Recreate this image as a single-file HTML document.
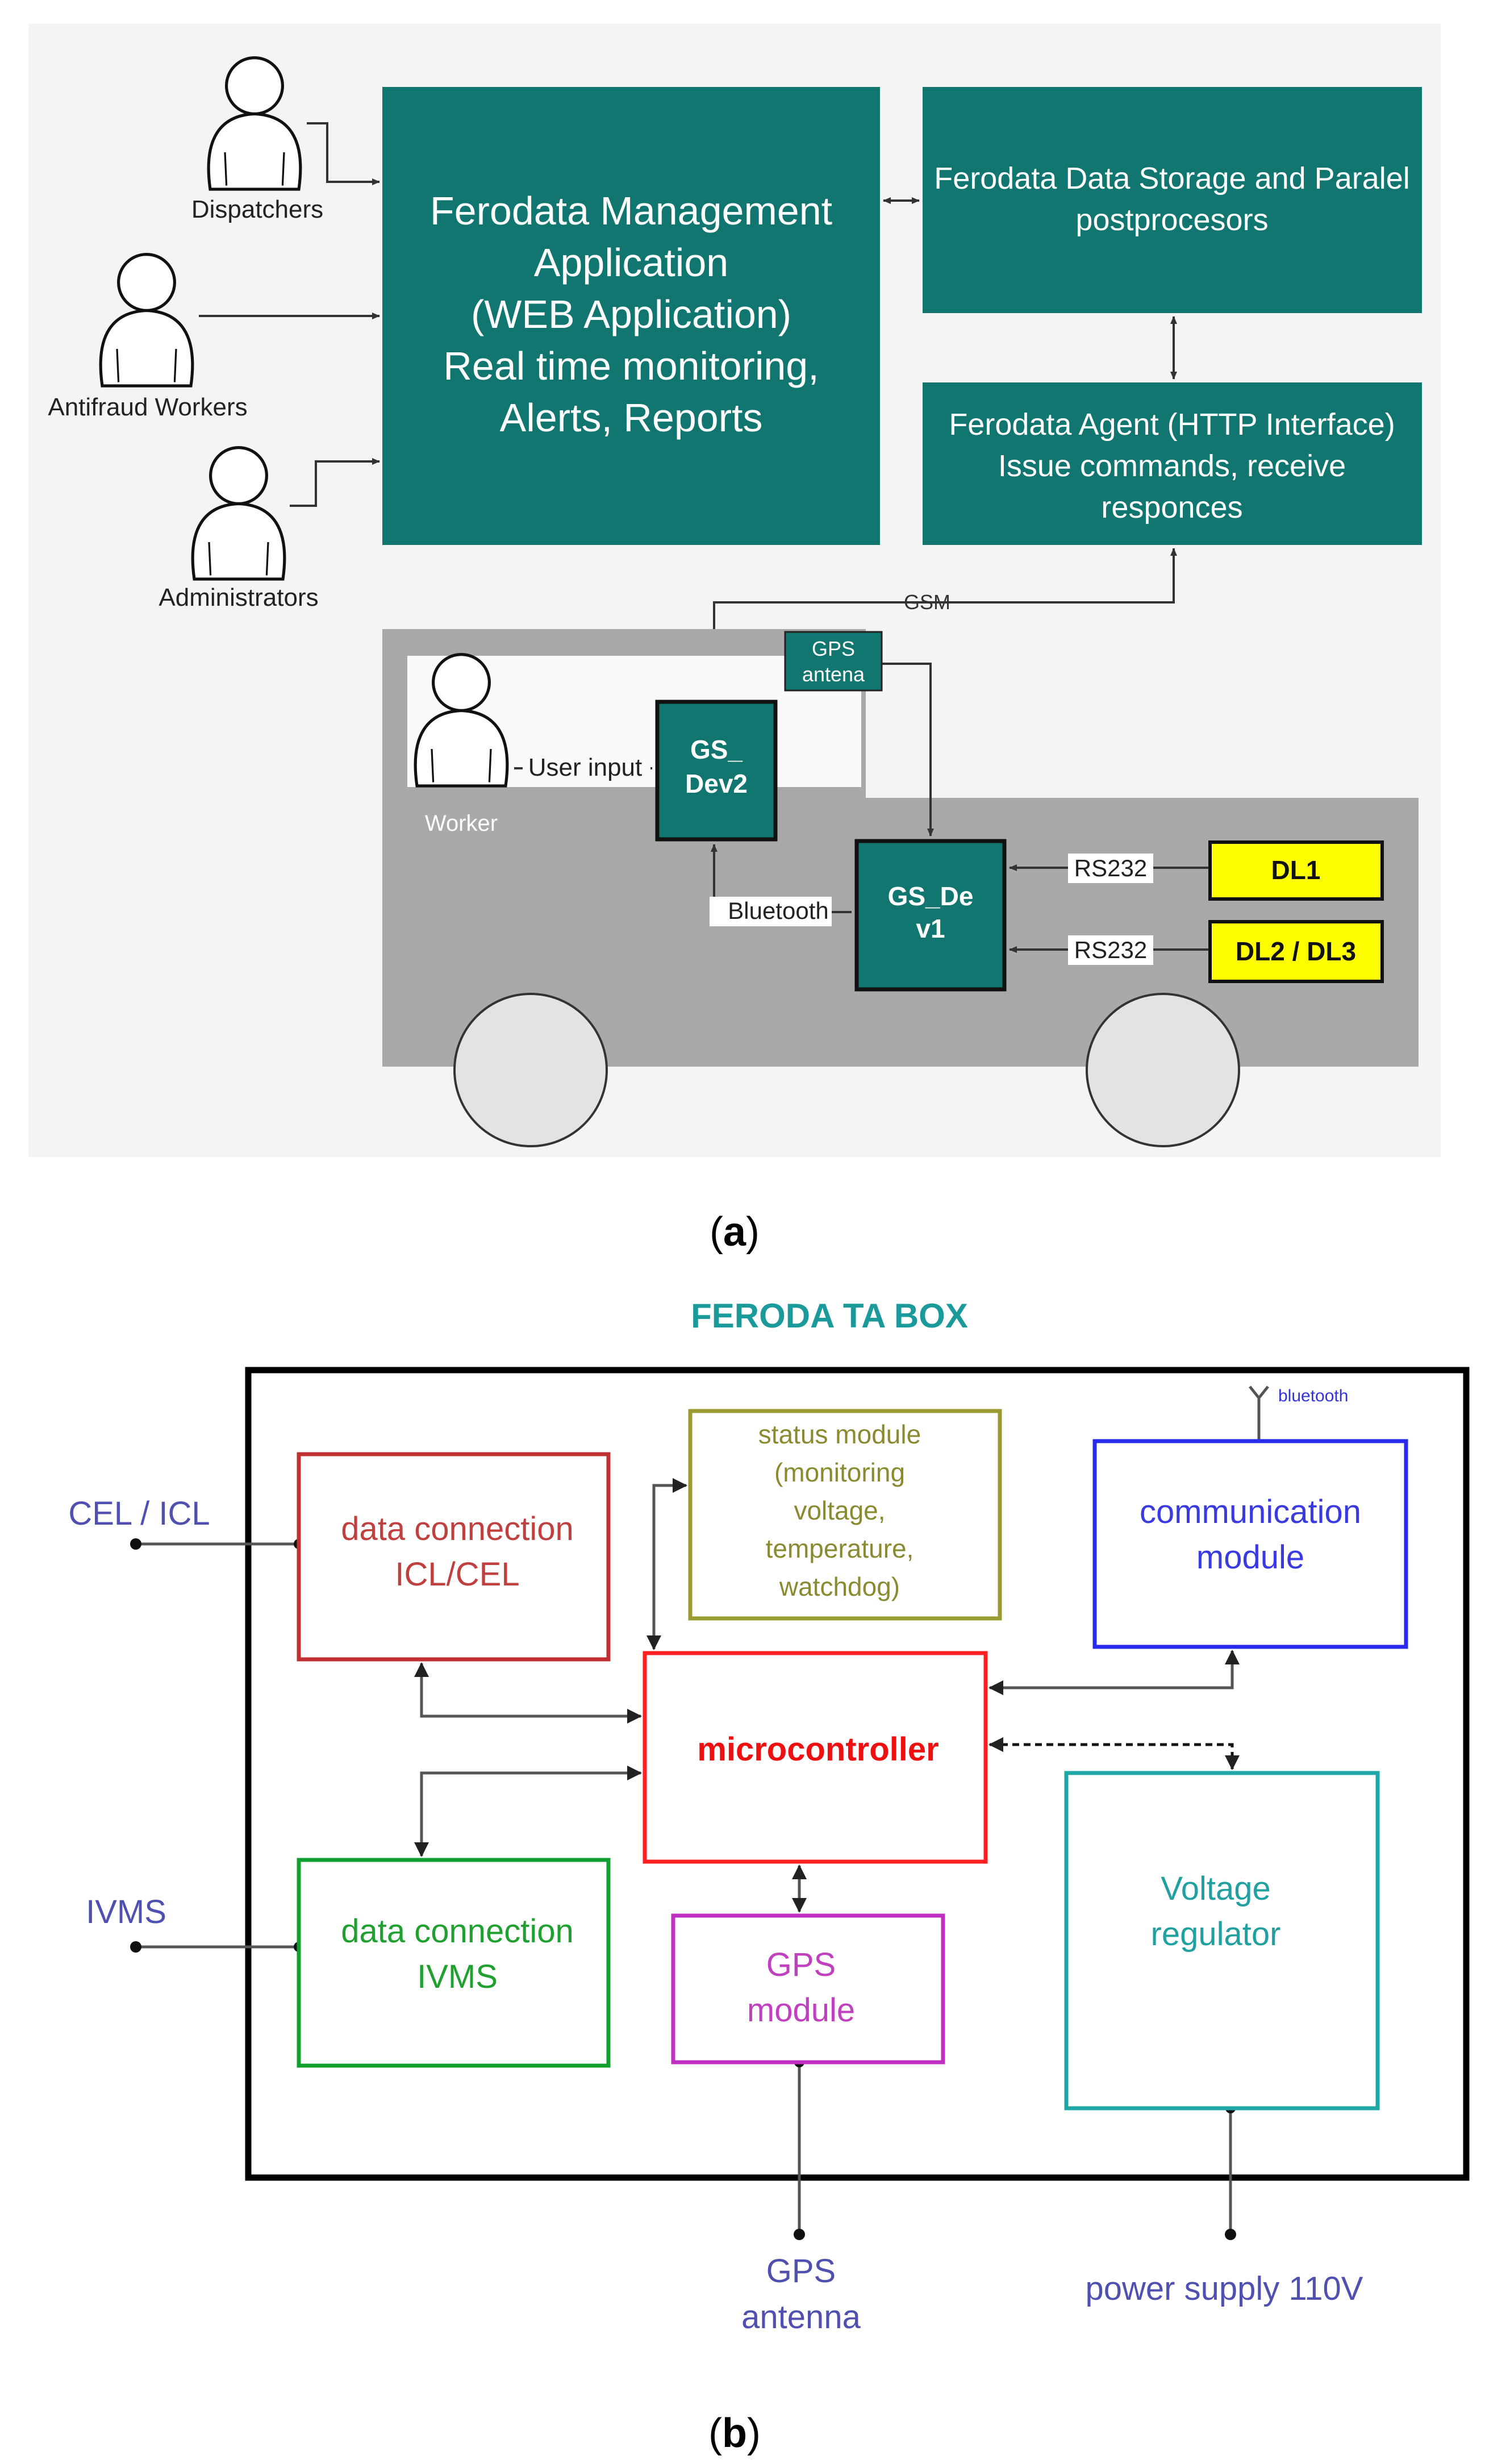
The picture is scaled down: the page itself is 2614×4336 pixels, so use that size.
<!DOCTYPE html>
<html><head><meta charset="utf-8"><style>
html,body{margin:0;padding:0;background:#fff;}
svg{display:block;}
text{font-family:"Liberation Sans",sans-serif;}
</style></head><body>
<svg width="2614" height="4336" viewBox="0 0 2614 4336" xmlns="http://www.w3.org/2000/svg">
<defs>
<marker id="ah" markerWidth="14" markerHeight="12" refX="13" refY="6" orient="auto-start-reverse" markerUnits="userSpaceOnUse"><path d="M0,0 L14,6 L0,12 z" fill="#333"/></marker>
<marker id="ab" markerWidth="26" markerHeight="26" refX="24" refY="13" orient="auto-start-reverse" markerUnits="userSpaceOnUse"><path d="M0,0 L26,13 L0,26 z" fill="#222"/></marker>
<g id="person" transform="scale(1.3)">
<path d="M-60,110 C-70,40 -45,10 0,8 C45,10 70,40 60,110 Z" fill="#fff" stroke="#111" stroke-width="4"/>
<path d="M-40,60 L-38,105 M40,60 L38,105" stroke="#111" stroke-width="2.5" fill="none"/>
<circle cx="0" cy="-30" r="38" fill="#fff" stroke="#111" stroke-width="4"/>
</g>
</defs>
<rect width="2614" height="4336" fill="#fff"/>
<rect x="50" y="42" width="2486" height="1994" fill="#f4f4f4"/>
<g stroke="#333" stroke-width="4" fill="none">
<path d="M540,217 L576,217 L576,320 L668,320" marker-end="url(#ah)"/>
<path d="M350,556 L668,556" marker-end="url(#ah)"/>
<path d="M510,890 L556,890 L556,812 L668,812" marker-end="url(#ah)"/>
<path d="M1555,353 L1618,353" marker-start="url(#ah)" marker-end="url(#ah)"/>
<path d="M2066,557 L2066,667" marker-start="url(#ah)" marker-end="url(#ah)"/>
<path d="M2066,965 L2066,1060 L1257,1060 L1257,1226" marker-start="url(#ah)" marker-end="url(#ah)"/>
</g>
<text x="1632" y="1072" font-size="36" text-anchor="middle" fill="#333">GSM</text>
<rect x="673" y="153" width="876" height="806" fill="#11766f"/>
<g fill="#fff" font-size="70" text-anchor="middle">
<text x="1111" y="395">Ferodata Management</text>
<text x="1111" y="486">Application</text>
<text x="1111" y="577">(WEB Application)</text>
<text x="1111" y="668">Real time monitoring,</text>
<text x="1111" y="759">Alerts, Reports</text>
</g>
<rect x="1624" y="153" width="879" height="398" fill="#11766f"/>
<g fill="#fff" font-size="54" text-anchor="middle">
<text x="2063" y="332">Ferodata Data Storage and Paralel</text>
<text x="2063" y="405">postprocesors</text>
</g>
<rect x="1624" y="673" width="879" height="286" fill="#11766f"/>
<g fill="#fff" font-size="54" text-anchor="middle">
<text x="2063" y="765">Ferodata Agent (HTTP Interface)</text>
<text x="2063" y="838">Issue commands, receive</text>
<text x="2063" y="911">responces</text>
</g>
<use href="#person" x="448" y="190"/>
<use href="#person" x="258" y="536"/>
<use href="#person" x="420" y="876"/>
<g font-size="44" text-anchor="middle" fill="#222">
<text x="453" y="383">Dispatchers</text>
<text x="260" y="731">Antifraud Workers</text>
<text x="420" y="1066">Administrators</text>
</g>
<rect x="673" y="1107" width="851" height="320" fill="#a9a9a9"/>
<rect x="673" y="1404" width="1824" height="473" fill="#a9a9a9"/>
<rect x="717" y="1154" width="799" height="231" fill="#fafafa"/>
<circle cx="934" cy="1883" r="134" fill="#e3e3e3" stroke="#333" stroke-width="4"/>
<circle cx="2047" cy="1883" r="134" fill="#e3e3e3" stroke="#333" stroke-width="4"/>
<use href="#person" x="812" y="1240"/>
<text x="812" y="1462" font-size="40" fill="#fff" text-anchor="middle">Worker</text>
<g stroke="#333" stroke-width="4" fill="none">
<path d="M905,1352 L1148,1352" marker-end="url(#ah)"/>
<path d="M1552,1168 L1638,1168 L1638,1471" marker-end="url(#ah)"/>
<path d="M1499,1605 L1257,1605 L1257,1486" marker-end="url(#ah)"/>
<path d="M2127,1527 L1777,1527" marker-end="url(#ah)"/>
<path d="M2127,1671 L1777,1671" marker-end="url(#ah)"/>
</g>
<rect x="920" y="1325" width="225" height="52" fill="#fafafa"/>
<text x="1030" y="1365" font-size="44" text-anchor="middle" fill="#222">User input</text>
<rect x="1249" y="1578" width="215" height="52" fill="#fff"/>
<text x="1370" y="1617" font-size="42" text-anchor="middle" fill="#222">Bluetooth</text>
<rect x="1880" y="1502" width="150" height="52" fill="#fff"/>
<text x="1955" y="1542" font-size="42" text-anchor="middle" fill="#222">RS232</text>
<rect x="1880" y="1646" width="150" height="52" fill="#fff"/>
<text x="1955" y="1686" font-size="42" text-anchor="middle" fill="#222">RS232</text>
<rect x="1382" y="1112" width="170" height="103" fill="#11766f" stroke="#222" stroke-width="3"/>
<text x="1467" y="1154" font-size="36" text-anchor="middle" fill="#fff">GPS</text>
<text x="1467" y="1199" font-size="36" text-anchor="middle" fill="#fff">antena</text>
<rect x="1157" y="1235" width="208" height="242" fill="#11766f" stroke="#111" stroke-width="7"/>
<text x="1261" y="1335" font-size="46" font-weight="bold" text-anchor="middle" fill="#fff">GS_</text>
<text x="1261" y="1395" font-size="46" font-weight="bold" text-anchor="middle" fill="#fff">Dev2</text>
<rect x="1508" y="1480" width="260" height="261" fill="#11766f" stroke="#111" stroke-width="7"/>
<text x="1638" y="1593" font-size="46" font-weight="bold" text-anchor="middle" fill="#fff">GS_De</text>
<text x="1638" y="1650" font-size="46" font-weight="bold" text-anchor="middle" fill="#fff">v1</text>
<rect x="2130" y="1482" width="303" height="100" fill="#ffff00" stroke="#111" stroke-width="6"/>
<text x="2281" y="1547" font-size="46" font-weight="bold" text-anchor="middle" fill="#111">DL1</text>
<rect x="2130" y="1622" width="303" height="105" fill="#ffff00" stroke="#111" stroke-width="6"/>
<text x="2281" y="1690" font-size="46" font-weight="bold" text-anchor="middle" fill="#111">DL2 / DL3</text>
<text x="1293" y="2192" font-size="72" text-anchor="middle" fill="#000" font-family="Liberation Serif, serif">(<tspan font-weight="bold">a</tspan>)</text>
<text x="1460" y="2336" font-size="60" font-weight="bold" text-anchor="middle" fill="#1a9a9a">FERODA TA BOX</text>
<rect x="437" y="2411" width="2144" height="1421" fill="none" stroke="#000" stroke-width="11"/>
<g stroke="#555" stroke-width="5" fill="none">
<path d="M239,2717 L526,2717"/>
<path d="M239,3426 L526,3426"/>
<path d="M742,2927 L742,3020 L1128,3020" marker-start="url(#ab)" marker-end="url(#ab)"/>
<path d="M1128,3120 L742,3120 L742,3266" marker-start="url(#ab)" marker-end="url(#ab)"/>
<path d="M1151,2902 L1151,2614 L1208,2614" marker-start="url(#ab)" marker-end="url(#ab)"/>
<path d="M1742,2970 L2169,2970 L2169,2905" marker-start="url(#ab)" marker-end="url(#ab)"/>
<path d="M1742,3070 L2169,3070 L2169,3113" stroke-dasharray="12,8" stroke="#111" marker-start="url(#ab)" marker-end="url(#ab)"/>
<path d="M1407,3283 L1407,3364" marker-start="url(#ab)" marker-end="url(#ab)"/>
<path d="M1407,3629 L1407,3932"/>
<path d="M2166,3710 L2166,3932"/>
<path d="M2216,2536 L2216,2456 M2200,2440 L2216,2460 L2232,2440"/>
</g>
<g fill="#111">
<circle cx="239" cy="2717" r="10"/><circle cx="526" cy="2717" r="9"/>
<circle cx="239" cy="3426" r="10"/><circle cx="526" cy="3426" r="9"/>
<circle cx="1407" cy="3629" r="9"/><circle cx="1407" cy="3932" r="10"/>
<circle cx="2166" cy="3710" r="9"/><circle cx="2166" cy="3932" r="10"/>
</g>
<text x="2250" y="2466" font-size="30" fill="#3333dd">bluetooth</text>
<rect x="526" y="2559" width="545" height="361" fill="#fff" stroke="#c03030" stroke-width="7"/>
<text x="805" y="2710" font-size="58" text-anchor="middle" fill="#c04040">data connection</text>
<text x="805" y="2790" font-size="58" text-anchor="middle" fill="#c04040">ICL/CEL</text>
<rect x="1215" y="2483" width="545" height="365" fill="#fff" stroke="#9a9a30" stroke-width="7"/>
<g font-size="46" text-anchor="middle" fill="#8a8a30">
<text x="1478" y="2540">status module</text>
<text x="1478" y="2607">(monitoring</text>
<text x="1478" y="2674">voltage,</text>
<text x="1478" y="2741">temperature,</text>
<text x="1478" y="2808">watchdog)</text>
</g>
<rect x="1927" y="2536" width="548" height="362" fill="#fff" stroke="#2a2aee" stroke-width="7"/>
<text x="2201" y="2680" font-size="58" text-anchor="middle" fill="#3a3ae0">communication</text>
<text x="2201" y="2760" font-size="58" text-anchor="middle" fill="#3a3ae0">module</text>
<rect x="1135" y="2909" width="600" height="367" fill="#fff" stroke="#ff2020" stroke-width="7"/>
<text x="1440" y="3098" font-size="58" font-weight="bold" text-anchor="middle" fill="#ee1010">microcontroller</text>
<rect x="526" y="3273" width="545" height="362" fill="#fff" stroke="#10a030" stroke-width="7"/>
<text x="805" y="3418" font-size="58" text-anchor="middle" fill="#20a030">data connection</text>
<text x="805" y="3498" font-size="58" text-anchor="middle" fill="#20a030">IVMS</text>
<rect x="1185" y="3371" width="475" height="258" fill="#fff" stroke="#c030c0" stroke-width="7"/>
<text x="1410" y="3477" font-size="58" text-anchor="middle" fill="#c040c0">GPS</text>
<text x="1410" y="3557" font-size="58" text-anchor="middle" fill="#c040c0">module</text>
<rect x="1877" y="3120" width="548" height="590" fill="#fff" stroke="#20a8a8" stroke-width="7"/>
<text x="2140" y="3343" font-size="58" text-anchor="middle" fill="#20a0a0">Voltage</text>
<text x="2140" y="3423" font-size="58" text-anchor="middle" fill="#20a0a0">regulator</text>
<text x="245" y="2683" font-size="58" text-anchor="middle" fill="#5050b0">CEL / ICL</text>
<text x="222" y="3384" font-size="58" text-anchor="middle" fill="#5050b0">IVMS</text>
<text x="1410" y="4016" font-size="58" text-anchor="middle" fill="#5050b0">GPS</text>
<text x="1410" y="4097" font-size="58" text-anchor="middle" fill="#5050b0">antenna</text>
<text x="2155" y="4047" font-size="58" text-anchor="middle" fill="#5050b0">power supply 110V</text>
<text x="1293" y="4306" font-size="72" text-anchor="middle" fill="#000" font-family="Liberation Serif, serif">(<tspan font-weight="bold">b</tspan>)</text>
</svg>
</body></html>
